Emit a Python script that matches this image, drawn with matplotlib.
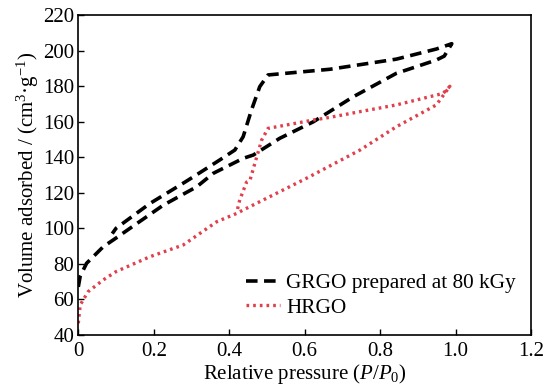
import matplotlib
matplotlib.use("Agg")
import matplotlib.pyplot as plt

plt.rcParams['font.family'] = ['Liberation Serif', 'DejaVu Serif']
plt.rcParams['mathtext.fontset'] = 'custom'
plt.rcParams['mathtext.it'] = 'Liberation Serif:italic'
plt.rcParams['mathtext.rm'] = 'Liberation Serif'

# GRGO (80 kGy) adsorption + desorption
grgo_x = [0.0, 0.005, 0.022, 0.066, 0.10, 0.137, 0.225, 0.314, 0.358, 0.437, 0.464, 0.534, 0.623,
          0.728, 0.843, 0.949, 0.97, 0.99,
          0.949, 0.843, 0.667, 0.503, 0.481, 0.459, 0.437, 0.415, 0.375, 0.305, 0.278, 0.19, 0.10, 0.09]
grgo_y = [67, 73, 80.3, 89.6, 94.5, 100, 113, 123.4, 131, 139.4, 141.3, 150.7, 160,
          174, 187.3, 194.8, 197, 204,
          201, 195.3, 189.6, 186.4, 179.8, 166.6, 151.6, 144.1, 138.5, 129, 125.4, 114, 100, 97]

# HRGO adsorption + desorption
hrgo_x = [0.0, 0.005, 0.026, 0.066, 0.10, 0.19, 0.278, 0.367, 0.42, 0.437, 0.605, 0.746, 0.843,
          0.949, 0.985,
          0.967, 0.843, 0.746, 0.667, 0.623, 0.503, 0.486, 0.468, 0.455, 0.446, 0.428, 0.42]
hrgo_y = [46.5, 56.8, 64.3, 70.9, 75.6, 84, 90.6, 103.7, 108.4, 110.3, 128.2, 144, 157.2,
          169.5, 180,
          176, 169.5, 165.7, 162.5, 161, 156.3, 149.7, 136.6, 127, 126, 116, 109]

xticks = [0, 0.2, 0.4, 0.6, 0.8, 1.0, 1.2]
xtick_labels = ['0', '0.2', '0.4', '0.6', '0.8', '1.0', '1.2']
yticks = [40, 60, 80, 100, 120, 140, 160, 180, 200, 220]

fig = plt.figure(figsize=(5.44, 3.89), dpi=100)
ax = fig.add_axes([78.3/544, 1-334.8/389, (531-78.3)/544, (334.8-15.3)/389])

ax.plot(grgo_x, grgo_y, color='black', lw=2.6, linestyle=(0, (3.2, 1.8)),
        label='GRGO prepared at 80 kGy')
ax.plot(hrgo_x, hrgo_y, color='#e0404c', lw=2.4, linestyle=(0, (0.8, 1.2)),
        label='HRGO')

ax.set_xlim(0, 1.2)
ax.set_ylim(40, 220)
ax.set_xticks(xticks)
ax.set_xticklabels(xtick_labels)
ax.set_yticks(yticks)
ax.tick_params(direction='in', length=4, width=1, labelsize=15, top=False, right=False)
ax.tick_params(axis='x', pad=5)
ax.tick_params(axis='y', pad=3)
for s in ax.spines.values():
    s.set_linewidth(1.2)

ax.set_xlabel('Relative pressure ($P$/$P_0$)', fontsize=15, labelpad=1)
ax.set_ylabel('Volume adsorbed / (cm$^3$·g$^{-1}$)', fontsize=15, labelpad=1)

leg = ax.legend(loc='lower right', bbox_to_anchor=(1.0, 0.0075), frameon=False, fontsize=15.3,
                handlelength=1.6, handletextpad=0.3, labelspacing=0.2, borderaxespad=0.3)

fig.savefig('out.png', dpi=100)
